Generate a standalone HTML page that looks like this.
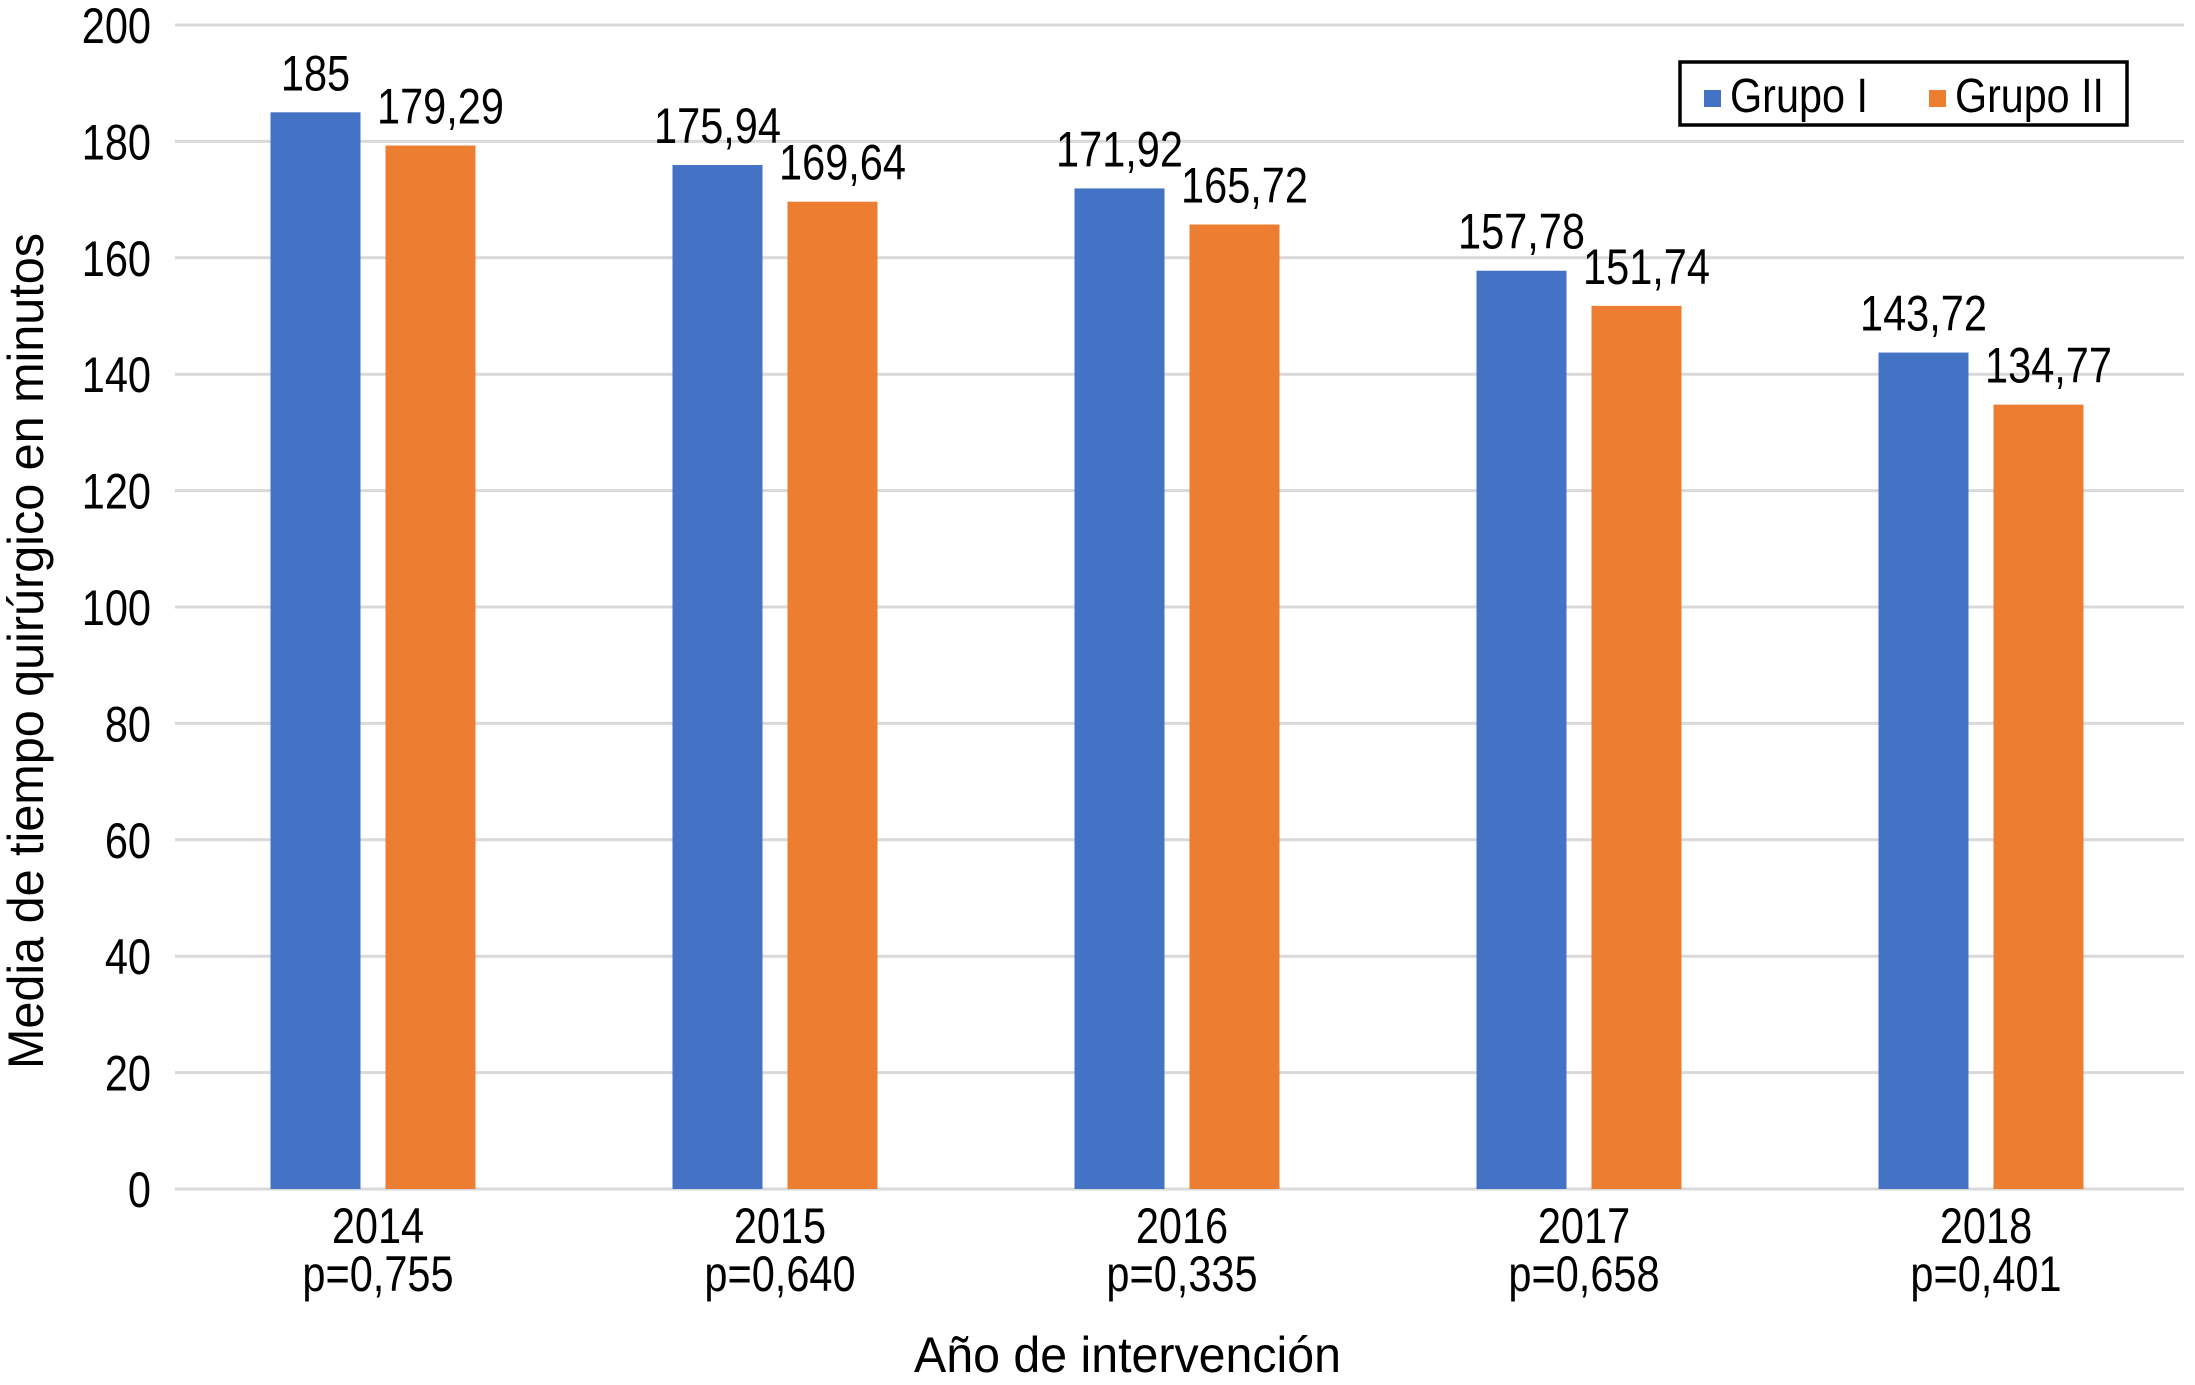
<!DOCTYPE html>
<html><head><meta charset="utf-8"><style>
body{margin:0;background:#fff;}
svg{display:block;font-family:"Liberation Sans",sans-serif;}
</style></head><body>
<svg id="chart" width="2195" height="1385"></svg>
<script>
const categories=["2014","2015","2016","2017","2018"];
const pvalues=["p=0,755","p=0,640","p=0,335","p=0,658","p=0,401"];
const grupo1=[185,175.94,171.92,157.78,143.72];
const grupo2=[179.29,169.64,165.72,151.74,134.77];
const labels1=["185","175,94","171,92","157,78","143,72"];
const labels2=["179,29","169,64","165,72","151,74","134,77"];
const yTicks=[0,20,40,60,80,100,120,140,160,180,200];

const NS="http://www.w3.org/2000/svg";
const svg=document.getElementById('chart');
const y0=1189,yTop=25;
const SX=0.83;
function y(v){return y0-(v/200)*(y0-yTop);}
function xc(i){return 373+i*402;}
function mk(t,a,txt){const e=document.createElementNS(NS,t);for(const k in a)e.setAttribute(k,a[k]);if(txt!==undefined)e.textContent=txt;svg.appendChild(e);return e;}
function ctext(x,yy,txt,anchor,size){
  return mk('text',{x:x/SX,y:yy,'font-size':size||50,'text-anchor':anchor||'middle',transform:'scale('+SX+',1)',fill:'#000'},txt);
}

yTicks.forEach(v=>{
  const g=mk('line',{x1:175,x2:2184,y1:y(v),y2:y(v),stroke:'#d9d9d9','stroke-width':3});
  
  
  const t=ctext(151,y(v)+18,String(v),'end');
  
  
});

const bw=90,off=57.5;
categories.forEach((c,i)=>{
  const cx=xc(i);
  const b1=mk('rect',{x:cx-off-bw/2,y:y(grupo1[i]),width:bw,height:y0-y(grupo1[i]),fill:'#4472c4'});
  
  
  const b2=mk('rect',{x:cx+off-bw/2,y:y(grupo2[i]),width:bw,height:y0-y(grupo2[i]),fill:'#ed7d31'});
  
  
  const l1=ctext(cx-off,y(grupo1[i])-22,labels1[i]);
  
  
  const l2=ctext(cx+off+10,y(grupo2[i])-22,labels2[i]);
  
  
  const yl=ctext(cx+5,1243,c);
  
  
  const pl=ctext(cx+5,1291,pvalues[i]);
  
  
});

const yt=mk('text',{x:0,y:0,'font-size':50,'text-anchor':'middle',textLength:836,lengthAdjust:'spacingAndGlyphs',transform:'translate(43,651) rotate(-90)'},'Media de tiempo quirúrgico en minutos');


const xt=mk('text',{x:914,y:1372,'font-size':50,textLength:427,lengthAdjust:'spacingAndGlyphs'},'Año de intervención');



const lg=mk('rect',{x:1680,y:62,width:447,height:63,fill:'#fff',stroke:'#000','stroke-width':3.5});


const s1=mk('rect',{x:1704,y:90,width:17,height:17,fill:'#4472c4'});


const t1=mk('text',{x:1730,y:112,'font-size':48,textLength:138,lengthAdjust:'spacingAndGlyphs'},'Grupo I');


const s2=mk('rect',{x:1929,y:90,width:17,height:17,fill:'#ed7d31'});


const t2=mk('text',{x:1955,y:112,'font-size':48,textLength:149,lengthAdjust:'spacingAndGlyphs'},'Grupo II');


</script>
</body></html>
